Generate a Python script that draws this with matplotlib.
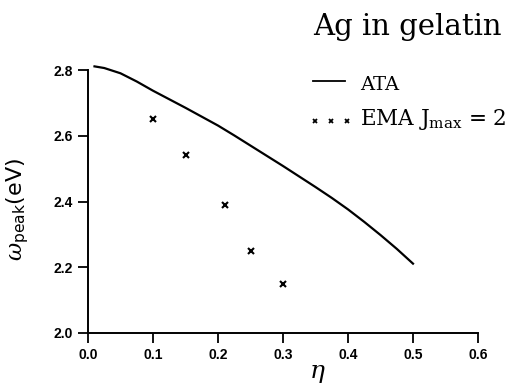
import matplotlib
matplotlib.use("Agg")
import matplotlib.pyplot as plt
from matplotlib.lines import Line2D

# ATA curve
eta_ata = [0.01, 0.025, 0.05, 0.075, 0.10, 0.125, 0.15, 0.175, 0.20, 0.225, 0.25,
           0.275, 0.30, 0.325, 0.35, 0.375, 0.40, 0.425, 0.45, 0.475, 0.50]
omega_ata = [2.811, 2.806, 2.790, 2.765, 2.737, 2.711, 2.685, 2.658, 2.631, 2.601, 2.570,
             2.539, 2.508, 2.476, 2.444, 2.411, 2.376, 2.338, 2.298, 2.256, 2.211]
# EMA points (Jmax = 2)
eta_ema = [0.10, 0.15, 0.21, 0.25, 0.30]
omega_ema = [2.65, 2.54, 2.39, 2.25, 2.15]

xticks = [0.0, 0.1, 0.2, 0.3, 0.4, 0.5, 0.6]
yticks = [2.0, 2.2, 2.4, 2.6, 2.8]

W, H = 527, 386
plt.rcParams['mathtext.fontset'] = 'dejavuserif'
fig = plt.figure(figsize=(W / 100, H / 100), dpi=100)
ax = fig.add_axes([88 / W, (H - 333) / H, (478 - 88) / W, (333 - 70) / H])

ax.plot(eta_ata, omega_ata, color='black', lw=1.6, clip_on=False)
ax.plot(eta_ema, omega_ema, ls='none', marker='x', color='black', ms=4, mew=1.5)

ax.set_xlim(0.0, 0.6)
ax.set_ylim(2.0, 2.8)
ax.set_xticks(xticks)
ax.set_yticks(yticks)
ax.set_xticklabels([f"{v:.1f}" for v in xticks])
ax.set_yticklabels([f"{v:.1f}" for v in yticks])
for s in ['top', 'right']:
    ax.spines[s].set_visible(False)
for s in ['left', 'bottom']:
    ax.spines[s].set_linewidth(1.4)
ax.tick_params(direction='out', length=7, width=1.3, pad=4)
for lab in ax.get_xticklabels() + ax.get_yticklabels():
    lab.set_fontfamily(['Liberation Sans Narrow', 'Liberation Sans'])
    lab.set_fontweight('bold')
    lab.set_fontsize(10)

ax.set_xlabel(r'$\eta$', fontsize=18)
ax.xaxis.set_label_coords((317 - 88) / 390, -0.105)
ax.set_ylabel(r'$\omega_{\mathsf{peak}}$' + '(eV)', fontsize=16, family='DejaVu Sans')
ax.yaxis.set_label_coords(-0.145, 0.47)

serif = ['DejaVu Serif']
fig.text(313 / W, 1 - 35 / H, 'Ag in gelatin', fontsize=21, family=serif, va='baseline')
fig.add_artist(Line2D([313 / W, 345 / W], [1 - 81 / H, 1 - 81 / H], color='black', lw=1.3,
                      transform=fig.transFigure))
fig.text(360 / W, 1 - 90 / H, 'ATA', fontsize=14, family=serif, va='baseline')
fig.add_artist(Line2D([315 / W, 331 / W, 347 / W], [1 - 121 / H] * 3, ls='none', marker='x',
                      ms=3.5, mew=1.3, color='black', transform=fig.transFigure))
fig.text(360 / W, 1 - 125 / H, r'EMA J$_{\mathrm{max}}$ = 2', fontsize=15.5,
         family=serif, va='baseline')

fig.savefig('out.png', dpi=100)
